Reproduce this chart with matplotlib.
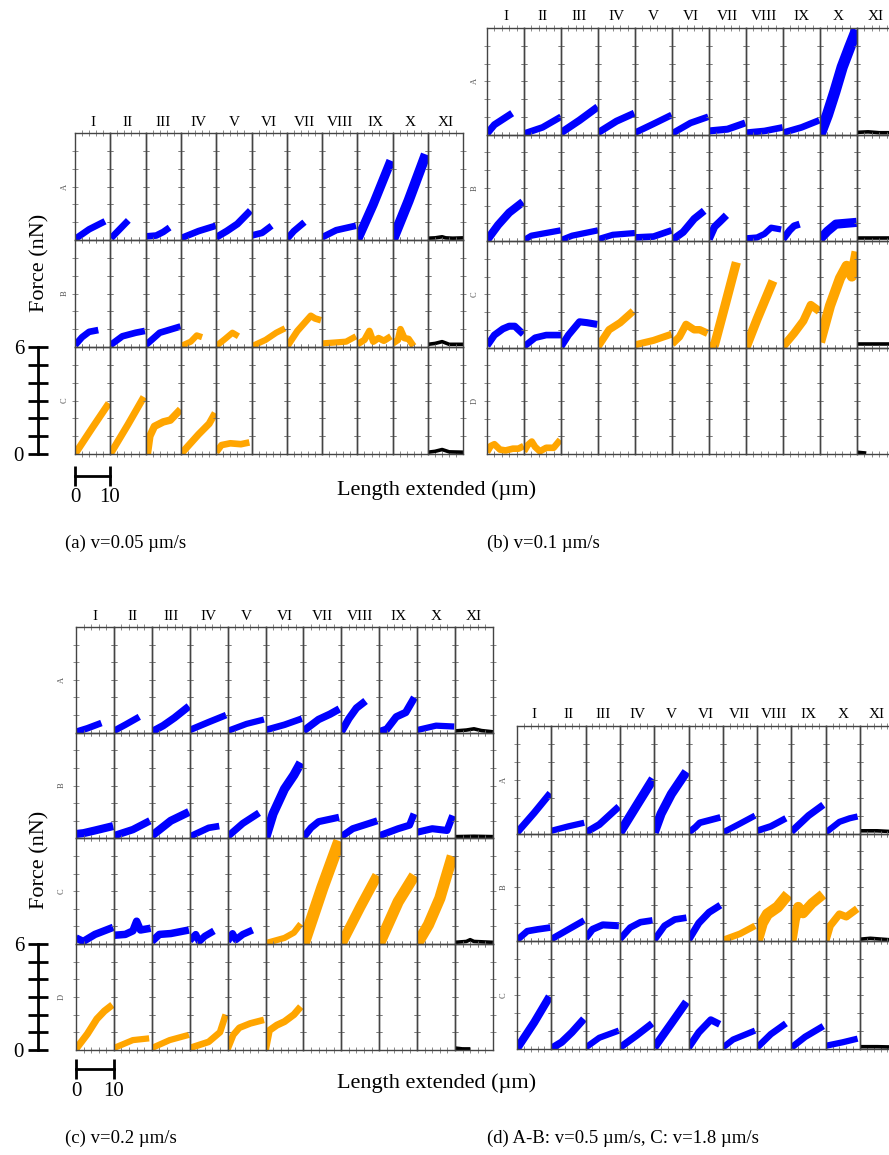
import numpy as np
import matplotlib.pyplot as plt

W, H = 889, 1155
plt.rcParams['font.family'] = ['Liberation Serif', 'DejaVu Serif']

roman = ['I', 'II', 'III', 'IV', 'V', 'VI', 'VII', 'VIII', 'IX', 'X', 'XI']
colmap = {'b': '#0000ff', 'o': '#ffa500', 'k': '#000000'}

# each cell: (colour, length um, force nN, spread nN) or None
a_A = [
    ('b', [0, 4, 8.5], [0.05, 0.6, 1.05], 0.08),
    ('b', [0.2, 5.1], [0.1, 1.1], 0.08),
    ('b', [0, 3, 5, 6.8], [0.2, 0.25, 0.45, 0.7], 0.08),
    ('b', [0, 5, 9.9], [0.1, 0.5, 0.8], 0.08),
    ('b', [0, 3, 6, 9.7], [0.15, 0.5, 0.9, 1.65], 0.1),
    ('b', [0, 3, 5.7], [0.25, 0.4, 0.8], 0.08),
    ('b', [0, 2, 5], [0.05, 0.5, 1.0], 0.08),
    ('b', [0, 4, 9.6], [0.15, 0.55, 0.8], 0.08),
    ('b', [0, 4.5, 9.5], [0, 2.0, 4.45], 0.2),
    ('b', [0, 4.5, 9.4], [0, 2.2, 4.8], 0.25),
    ('k', [0, 2, 4, 5, 7, 10], [0.1, 0.12, 0.18, 0.12, 0.1, 0.12], 0.03),
]
a_B = [
    ('b', [0, 2, 4, 6.6], [0.1, 0.55, 0.85, 0.95], 0.08),
    ('b', [0, 3.4, 7.2, 9.8], [0.1, 0.6, 0.8, 0.9], 0.08),
    ('b', [0, 4, 9.9], [0.1, 0.8, 1.15], 0.08),
    ('o', [0, 2.8, 4.5, 6], [0.05, 0.3, 0.65, 0.55], 0.06),
    ('o', [0, 2.5, 4.6, 6.3], [0.05, 0.45, 0.8, 0.6], 0.06),
    ('o', [0, 4, 7, 9.5], [0.03, 0.4, 0.8, 1.05], 0.06),
    ('o', [0, 3, 6.8, 8, 9.7], [0, 0.9, 1.75, 1.6, 1.5], 0.08),
    ('o', [0, 3.5, 6.8, 9.6], [0.2, 0.25, 0.3, 0.6], 0.06),
    ('o', [0, 2, 3.4, 4.5, 6, 7.5, 9.5], [0.15, 0.4, 0.9, 0.3, 0.5, 0.35, 0.6], 0.08),
    ('o', [0, 1.5, 2.2, 3.3, 4.5, 5.9], [0.2, 0.4, 1.0, 0.5, 0.45, 0.05], 0.08),
    ('k', [0, 2, 4, 6, 10], [0.15, 0.2, 0.3, 0.15, 0.15], 0.03),
]
a_C = [
    ('o', [0, 5, 9.6], [0, 1.5, 2.85], 0.1),
    ('o', [0, 5, 9.5], [0, 1.65, 3.2], 0.1),
    ('o', [0.5, 1.2, 2.5, 5, 7, 9.9], [0, 1.0, 1.55, 1.8, 1.9, 2.5], 0.12),
    ('o', [0, 5, 8, 9.7], [0, 1.1, 1.7, 2.3], 0.1),
    ('o', [0, 1.5, 4, 7, 9.4], [0.1, 0.5, 0.6, 0.55, 0.65], 0.08),
    None, None, None, None, None,
    ('k', [0, 2, 4, 6, 10], [0.1, 0.15, 0.25, 0.12, 0.1], 0.03),
]

b_A = [
    ('b', [0, 2, 6.8], [0.05, 0.55, 1.2], 0.1),
    ('b', [0, 5, 10], [0.05, 0.4, 1.0], 0.08),
    ('b', [0, 5, 9.9], [0.1, 0.8, 1.55], 0.12),
    ('b', [0, 5, 9.8], [0.1, 0.75, 1.2], 0.1),
    ('b', [0, 5, 9.9], [0.1, 0.6, 1.1], 0.08),
    ('b', [0, 5, 9.8], [0.05, 0.65, 1.0], 0.08),
    ('b', [0, 5, 9.8], [0.2, 0.3, 0.65], 0.1),
    ('b', [0, 5, 9.9], [0.1, 0.2, 0.4], 0.08),
    ('b', [0, 5, 9.8], [0.1, 0.4, 0.8], 0.08),
    ('b', [0, 2, 4, 6, 8, 9.9], [0, 1.1, 2.4, 3.8, 4.9, 5.9], 0.3),
    ('k', [0, 3, 6, 10], [0.12, 0.15, 0.1, 0.1], 0.03),
]
b_B = [
    ('b', [0, 3, 6, 9.7], [0.05, 0.9, 1.6, 2.2], 0.15),
    ('b', [0, 2, 9.9], [0.05, 0.3, 0.6], 0.06),
    ('b', [0, 3, 10], [0.05, 0.3, 0.6], 0.06),
    ('b', [0, 4, 10], [0.1, 0.35, 0.45], 0.06),
    ('b', [0, 5, 9.9], [0.2, 0.25, 0.6], 0.08),
    ('b', [0, 3, 6, 8.7], [0.05, 0.5, 1.25, 1.7], 0.12),
    ('b', [0, 1.5, 3, 4.7], [0.1, 0.8, 1.1, 1.45], 0.12),
    ('b', [0, 3, 5, 6.8, 9.5], [0.15, 0.2, 0.4, 0.75, 0.65], 0.06),
    ('b', [0, 1.8, 3, 4.5], [0.1, 0.6, 0.85, 0.95], 0.1),
    ('b', [0, 2, 4.3, 9.9], [0.1, 0.55, 0.95, 1.05], 0.2),
    ('k', [0, 5, 10], [0.15, 0.15, 0.15], 0.05),
]
b_C = [
    ('b', [0, 2, 4.3, 6, 7.5, 9.8], [0.1, 0.7, 1.05, 1.2, 1.2, 0.75], 0.1),
    ('b', [0, 3, 6, 10], [0.05, 0.55, 0.7, 0.7], 0.08),
    ('b', [0, 2, 5, 7, 9.8], [0.05, 0.7, 1.45, 1.4, 1.3], 0.1),
    ('o', [0, 3, 6, 9.5], [0.05, 1.0, 1.4, 2.05], 0.12),
    ('o', [0, 5, 9.9], [0.15, 0.4, 0.75], 0.1),
    ('o', [0, 2, 3.8, 6, 7.5, 9.6], [0.2, 0.6, 1.3, 1.0, 1.0, 0.8], 0.12),
    ('o', [0, 1.5, 4.5, 7.4], [0, 0.15, 2.5, 4.8], 0.2),
    ('o', [0, 3, 7.3], [0, 1.6, 3.75], 0.2),
    ('o', [0, 3, 5.5, 7.5, 9.8], [0.05, 0.8, 1.5, 2.4, 2.05], 0.15),
    ('o', [0, 2.7, 5.4, 7.2, 8.6, 9.9], [0.3, 2.35, 3.9, 4.6, 4.0, 5.4], 0.25),
    ('k', [0, 5, 10], [0.2, 0.2, 0.2], 0.05),
]
b_D = [
    ('o', [0, 1, 2, 3.5, 5, 7, 8.5, 9.9], [0.1, 0.45, 0.55, 0.25, 0.2, 0.3, 0.3, 0.45], 0.08),
    ('o', [0, 1, 2.1, 3, 4.3, 6, 8, 9.8], [0.15, 0.5, 0.7, 0.4, 0.15, 0.35, 0.35, 0.8], 0.08),
    None, None, None, None, None, None, None, None,
    ('k', [0, 2.5], [0.1, 0.05], 0.03),
]

c_A = [
    ('b', [0, 3, 6.7], [0.05, 0.25, 0.55], 0.08),
    ('b', [0, 3, 6.7], [0.1, 0.45, 0.9], 0.08),
    ('b', [0, 3, 6, 9.8], [0.05, 0.4, 0.85, 1.5], 0.12),
    ('b', [0, 5, 9.6], [0.15, 0.6, 1.0], 0.08),
    ('b', [0, 5, 9.6], [0.1, 0.5, 0.75], 0.06),
    ('b', [0, 5, 9.6], [0.15, 0.45, 0.8], 0.08),
    ('b', [0, 4, 7, 9.5], [0.1, 0.75, 1.05, 1.35], 0.12),
    ('b', [0, 2, 4, 6.4], [0.05, 0.8, 1.4, 1.8], 0.12),
    ('b', [0, 2, 4.5, 7, 9.3], [0.05, 0.2, 0.9, 1.15, 2.0], 0.12),
    ('b', [0, 5, 9.8], [0.15, 0.4, 0.35], 0.06),
    ('k', [0, 3, 5, 7, 10], [0.1, 0.15, 0.22, 0.12, 0.05], 0.03),
]
c_B = [
    ('b', [0, 2, 5, 9.8], [0.25, 0.3, 0.45, 0.7], 0.15),
    ('b', [0, 5, 9.5], [0.15, 0.5, 1.0], 0.12),
    ('b', [0, 5, 9.8], [0.15, 1.0, 1.5], 0.15),
    ('b', [0, 5, 7.8], [0.1, 0.6, 0.7], 0.08),
    ('b', [0, 4, 8.3], [0.1, 0.85, 1.45], 0.1),
    ('b', [0, 2, 5, 7.5, 9.3], [0, 1.4, 2.8, 3.6, 4.3], 0.2),
    ('b', [0, 2, 4, 9.4], [0.05, 0.6, 0.95, 1.2], 0.1),
    ('b', [0, 3, 9.5], [0.1, 0.55, 1.0], 0.1),
    ('b', [0, 5, 8, 9.2], [0.15, 0.55, 0.75, 1.4], 0.1),
    ('b', [0, 4, 7.9, 9.4], [0.35, 0.55, 0.45, 1.3], 0.1),
    ('k', [0, 5, 10], [0.1, 0.12, 0.1], 0.03),
]
c_C = [
    ('b', [0, 1.9, 5, 9.8], [0.35, 0.15, 0.55, 0.95], 0.12),
    ('b', [0, 3, 5, 6, 7, 9.7], [0.5, 0.55, 0.75, 1.3, 0.8, 0.9], 0.12),
    ('b', [0, 2, 5, 9.8], [0.15, 0.55, 0.6, 0.8], 0.12),
    ('b', [0, 1.6, 2.5, 4, 6.4], [0.2, 0.55, 0.15, 0.45, 0.75], 0.1),
    ('b', [0, 1.3, 2.2, 4, 6.6], [0.15, 0.6, 0.25, 0.55, 0.8], 0.1),
    ('o', [0, 5, 7.5, 9.3], [0.05, 0.35, 0.65, 1.15], 0.06),
    ('o', [0, 5, 9.5], [0, 3.2, 5.85], 0.35),
    ('o', [0, 5, 9.5], [0, 2.1, 3.9], 0.25),
    ('o', [0, 5, 9.3], [0, 2.4, 3.9], 0.3),
    ('o', [0, 3, 6, 9.3], [0, 1.1, 2.6, 5.0], 0.3),
    ('k', [0, 3, 4, 5, 10], [0.1, 0.15, 0.25, 0.15, 0.1], 0.03),
]
c_D = [
    ('o', [0, 3, 5.5, 7.5, 9.6], [0.05, 0.9, 1.75, 2.2, 2.55], 0.1),
    ('o', [0, 5, 9.3], [0.1, 0.55, 0.65], 0.06),
    ('o', [0, 4.7, 9.8], [0.1, 0.55, 0.85], 0.06),
    ('o', [0, 5, 8, 9.5], [0.1, 0.45, 1.0, 2.0], 0.08),
    ('o', [0, 1.5, 3.1, 6, 9.6], [0.05, 0.85, 1.25, 1.5, 1.7], 0.08),
    ('o', [0, 1, 3, 5, 7.5, 9.3], [0, 1.1, 1.4, 1.6, 2.0, 2.45], 0.1),
    None, None, None, None,
    ('k', [0, 2, 4], [0.1, 0.05, 0.05], 0.03),
]

d_A = [
    ('b', [0, 5, 9.7], [0.05, 1.15, 2.25], 0.1),
    ('b', [0, 5, 9.6], [0.15, 0.4, 0.6], 0.06),
    ('b', [0, 4, 9.7], [0.05, 0.5, 1.5], 0.1),
    ('b', [0, 5, 9.7], [0.05, 1.6, 3.05], 0.2),
    ('b', [0, 2, 5, 9.4], [0.05, 1.1, 2.2, 3.45], 0.2),
    ('b', [0, 2, 3.3, 9.3], [0.05, 0.35, 0.6, 0.9], 0.08),
    ('b', [0, 5, 9.4], [0.05, 0.55, 1.0], 0.06),
    ('b', [0, 4, 8.4], [0.15, 0.4, 0.85], 0.08),
    ('b', [0, 5, 9.3], [0.1, 1.0, 1.6], 0.1),
    ('b', [0, 4, 7, 9.3], [0.05, 0.65, 0.85, 0.95], 0.06),
    ('k', [0, 5, 10], [0.15, 0.15, 0.1], 0.03),
]
d_B = [
    ('b', [0, 3, 6, 9.7], [0.05, 0.55, 0.65, 0.75], 0.08),
    ('b', [0, 5, 9.6], [0.1, 0.65, 1.15], 0.08),
    ('b', [0, 2, 5, 9.7], [0.15, 0.65, 0.9, 0.85], 0.1),
    ('b', [0, 3, 6, 9.5], [0.1, 0.75, 1.05, 1.15], 0.08),
    ('b', [0, 3, 6, 9.4], [0.05, 0.85, 1.2, 1.3], 0.08),
    ('b', [0, 3, 6, 9.3], [0.05, 1.0, 1.6, 2.0], 0.1),
    ('o', [0, 5, 9.4], [0.05, 0.4, 0.85], 0.08),
    ('o', [0, 1.5, 3, 6, 9], [0, 1.0, 1.5, 1.9, 2.6], 0.3),
    ('o', [0, 1, 2, 3.4, 6, 9.2], [0, 1.2, 1.9, 1.55, 2.1, 2.6], 0.25),
    ('o', [0, 1.3, 4, 6, 9.2], [0, 0.85, 1.5, 1.35, 1.8], 0.12),
    ('k', [0, 3, 10], [0.1, 0.15, 0.05], 0.03),
]
d_C = [
    ('b', [0, 5, 9.5], [0, 1.45, 2.9], 0.15),
    ('b', [0, 3, 6, 9.5], [0, 0.35, 0.9, 1.65], 0.12),
    ('b', [0, 4, 9.7], [0.05, 0.6, 1.0], 0.06),
    ('b', [0, 5, 9.4], [0.05, 0.75, 1.4], 0.1),
    ('b', [0, 5, 9.4], [0.05, 1.4, 2.6], 0.15),
    ('b', [0, 3, 6.5, 9.1], [0.05, 0.9, 1.6, 1.35], 0.1),
    ('b', [0, 3, 9.4], [0.05, 0.5, 1.0], 0.06),
    ('b', [0, 4, 8.4], [0.05, 0.8, 1.4], 0.08),
    ('b', [0, 4, 9.3], [0.05, 0.65, 1.25], 0.08),
    ('b', [0, 5, 9.3], [0.15, 0.35, 0.55], 0.06),
    ('k', [0, 5, 10], [0.1, 0.1, 0.08], 0.03),
]

captions = ['(a) v=0.05 \u00b5m/s', '(b) v=0.1 \u00b5m/s', '(c) v=0.2 \u00b5m/s',
            '(d) A-B: v=0.5 \u00b5m/s, C: v=1.8 \u00b5m/s']

fig = plt.figure(figsize=(W / 100, H / 100), dpi=100)


def rect(x, y, w, h):
    return [x / W, 1 - (y + h) / H, w / W, h / H]


def draw_panel(rows, left, top, cw, ch, letx):
    for c, name in enumerate(roman):
        fig.text((left + (c + 0.5) * cw) / W, 1 - (top - 11) / H, name,
                 ha='center', va='center', fontsize=11)
    for r, row in enumerate(rows):
        fig.text(letx / W, 1 - (top + (r + 0.5) * ch) / H, 'ABCD'[r],
                 rotation=90, ha='center', va='center', fontsize=6, color='#555555')
        for c, cell in enumerate(row):
            ax = fig.add_axes(rect(left + c * cw, top + r * ch, cw, ch))
            ax.set_xlim(0, 10)
            ax.set_ylim(0, 6)
            ax.set_xticks([2, 4, 6, 8])
            ax.set_yticks([1, 2, 3, 4, 5])
            ax.tick_params(direction='inout', length=4, width=0.6, colors='#777777',
                           top=True, right=True, labelbottom=False, labelleft=False)
            for s in ax.spines.values():
                s.set_color('#444444')
                s.set_linewidth(1.0)
            ax.patch.set_alpha(0)
            if cell is None:
                continue
            col, xs, ys, err = cell
            color = colmap[col]
            # trace thickness follows the spread of the repeats
            lw = 2.6 if col == 'k' else 3.6 + err * 15
            ax.plot(xs, ys, color=color, lw=lw, solid_joinstyle='round',
                    solid_capstyle='butt')


def scale_bars(ytop, ybot, xleft, xright, hy):
    ax = fig.add_axes(rect(38, ytop, 1, ybot - ytop))
    ax.set_ylim(0, 6)
    ax.set_xticks([])
    for s in ['top', 'right', 'bottom']:
        ax.spines[s].set_visible(False)
    ax.spines['left'].set_linewidth(2)
    ax.set_yticks(range(7))
    ax.set_yticklabels(['0', '', '', '', '', '', '6'], fontsize=15)
    ax.tick_params(axis='y', direction='inout', length=14, width=2, pad=3)
    ax.patch.set_alpha(0)

    bx = fig.add_axes(rect(xleft, hy - 1, xright - xleft, 1))
    bx.set_xlim(0, 10)
    bx.set_yticks([])
    for s in ['top', 'right', 'left']:
        bx.spines[s].set_visible(False)
    bx.spines['bottom'].set_linewidth(2)
    bx.set_xticks([0, 10])
    bx.set_xticklabels(['0', '10'], fontsize=15)
    bx.tick_params(axis='x', direction='inout', length=14, width=2, pad=2)
    bx.patch.set_alpha(0)


draw_panel([a_A, a_B, a_C], 75, 133, 35.3, 107, 65)
draw_panel([b_A, b_B, b_C, b_D], 487, 28, 37, 106.5, 475)
draw_panel([c_A, c_B, c_C, c_D], 76, 627, 37.9, 105.7, 62)
draw_panel([d_A, d_B, d_C], 517, 726, 34.3, 107.5, 504)

scale_bars(347, 454, 75, 110, 476)
scale_bars(944, 1050, 76, 114, 1069)

fig.text(40 / W, 1 - 263 / H, 'Force (nN)', rotation=90, ha='center', va='center', fontsize=16)
fig.text(40 / W, 1 - 860 / H, 'Force (nN)', rotation=90, ha='center', va='center', fontsize=16)
fig.text(437 / W, 1 - 490 / H, 'Length extended (\u00b5m)', ha='center', va='center', fontsize=16)
fig.text(437 / W, 1 - 1083 / H, 'Length extended (\u00b5m)', ha='center', va='center', fontsize=16)

fig.text(65 / W, 1 - 543 / H, captions[0], ha='left', va='center', fontsize=13.5)
fig.text(487 / W, 1 - 543 / H, captions[1], ha='left', va='center', fontsize=13.5)
fig.text(65 / W, 1 - 1138 / H, captions[2], ha='left', va='center', fontsize=13.5)
fig.text(487 / W, 1 - 1138 / H, captions[3], ha='left', va='center', fontsize=13.5)

fig.savefig('out.png', dpi=100)
